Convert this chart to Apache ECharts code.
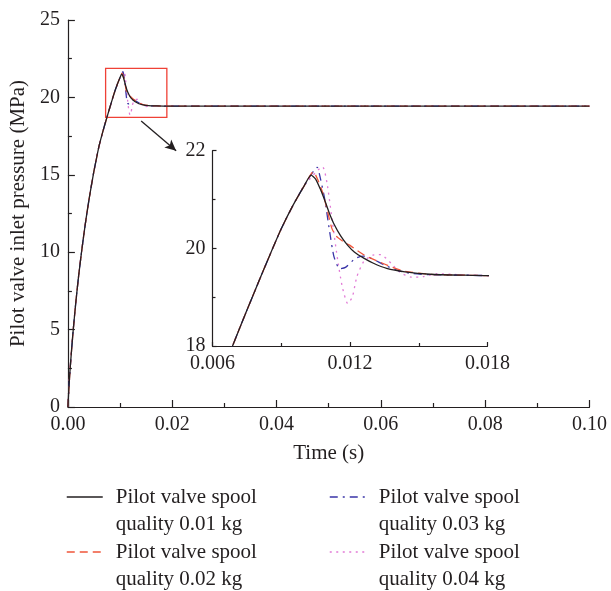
<!DOCTYPE html>
<html>
<head>
<meta charset="utf-8">
<script src="https://cdn.jsdelivr.net/npm/echarts@6/dist/echarts.min.js"></script>
<style>
html,body{margin:0;padding:0;background:#fff;}
#chart{width:611px;height:591px;}
</style>
</head>
<body>
<div id="chart"></div>
<script>
// ---- data ----
var seriesNames = [
  'Pilot valve spool quality 0.01 kg',
  'Pilot valve spool quality 0.02 kg',
  'Pilot valve spool quality 0.03 kg',
  'Pilot valve spool quality 0.04 kg'
];
// shared pressure rise (all four curves coincide)
var riseTime = [0, 0.0002, 0.0005, 0.001, 0.0015, 0.002, 0.0025, 0.003, 0.0035, 0.004, 0.0045, 0.005, 0.0055, 0.006, 0.0065, 0.007, 0.0075, 0.008, 0.0085, 0.009, 0.0095, 0.010];
var risePressure = [0, 1.3, 2.8, 4.9, 6.7, 8.3, 9.7, 11.0, 12.2, 13.3, 14.3, 15.25, 16.1, 16.9, 17.55, 18.15, 18.73, 19.3, 19.86, 20.4, 20.87, 21.28];
// settled tail (shared)
var tailTime = [0.03, 0.05, 0.07, 0.1];
var tailPressure = [19.44, 19.44, 19.44, 19.44];

var time001 = [0.0103, 0.0105, 0.0107, 0.0109, 0.0111, 0.0113, 0.0116, 0.0119, 0.0122, 0.0126, 0.013, 0.0136, 0.0144, 0.0155, 0.017, 0.0183];
var press001 = [21.5, 21.42, 21.22, 20.98, 20.72, 20.5, 20.25, 20.06, 19.92, 19.8, 19.7, 19.59, 19.52, 19.47, 19.45, 19.44];

var time002 = [0.0104, 0.0106, 0.0108, 0.011, 0.0112, 0.0114, 0.0117, 0.012, 0.0123, 0.0127, 0.0132, 0.0138, 0.0144, 0.0155, 0.017, 0.0183];
var press002 = [21.57, 21.4, 21.15, 20.8, 20.42, 20.25, 20.14, 20.06, 19.96, 19.84, 19.74, 19.62, 19.53, 19.47, 19.45, 19.44];

var time003 = [0.01057, 0.0107, 0.0109, 0.0111, 0.0113, 0.01155, 0.0118, 0.01225, 0.0126, 0.0129, 0.0135, 0.014, 0.0146, 0.0155, 0.017, 0.0183];
var press003 = [21.66, 21.45, 21.0, 20.38, 19.83, 19.58, 19.61, 19.8, 19.84, 19.8, 19.66, 19.56, 19.49, 19.46, 19.45, 19.44];

var time004 = [0.0108, 0.011, 0.0112, 0.01144, 0.01166, 0.0119, 0.0121, 0.0123, 0.0126, 0.013, 0.01335, 0.0138, 0.0142, 0.0147, 0.0152, 0.0158, 0.0164, 0.0172, 0.0183];
var press004 = [21.67, 21.33, 20.65, 19.83, 19.22, 18.87, 19.0, 19.42, 19.73, 19.86, 19.87, 19.69, 19.5, 19.41, 19.42, 19.48, 19.47, 19.45, 19.44];

var mainXTicks = [0, 0.1, 0.02];      // min, max, interval
var mainYTicks = [0, 25, 5];
var insetXTicks = [0.006, 0.018, 0.006];
var insetYTicks = [18, 22, 2];
var zoomBoxTime = [0.00723, 0.01897];
var zoomBoxPressure = [18.71, 21.88];
var arrowTime = [0.01405, 0.02075];
var arrowPressure = [18.48, 16.56];

// ---- build ----
function buildData(t, p) {
  var out = [];
  var i;
  for (i = 0; i < riseTime.length; i++) out.push([riseTime[i], risePressure[i]]);
  for (i = 0; i < t.length; i++) out.push([t[i], p[i]]);
  for (i = 0; i < tailTime.length; i++) out.push([tailTime[i], tailPressure[i]]);
  return out;
}
var datasets = [
  buildData(time001, press001),
  buildData(time002, press002),
  buildData(time003, press003),
  buildData(time004, press004)
];
var colors = ['#231f20', '#f0553a', '#3a35a8', '#e27ad6'];
var dashTypes = ['solid', [8, 5], [8, 5, 2, 5], [2, 4.5]];
var FONT = 'Liberation Serif';
var TXT = '#231f20';

function axisCommon() {
  return {
    axisLine: {show: true, lineStyle: {color: TXT, width: 1.2}},
    axisTick: {show: true, inside: true, length: 7, lineStyle: {color: TXT, width: 1.2}},
    minorTick: {show: true, splitNumber: 2, length: 4, lineStyle: {color: TXT, width: 1.2}},
    splitLine: {show: false},
    axisLabel: {fontFamily: FONT, fontSize: 20, color: TXT, margin: 5}
  };
}
function merge(a, b) { for (var k in b) a[k] = b[k]; return a; }

var xAxes = [
  merge(axisCommon(), {type: 'value', gridIndex: 0, min: mainXTicks[0], max: mainXTicks[1], interval: mainXTicks[2],
    name: 'Time (s)', nameLocation: 'middle', nameGap: 36,
    nameTextStyle: {fontFamily: FONT, fontSize: 21, color: TXT}}),
  merge(axisCommon(), {type: 'value', gridIndex: 1, min: insetXTicks[0], max: insetXTicks[1], interval: insetXTicks[2]})
];
xAxes[0].axisLabel = {fontFamily: FONT, fontSize: 20, color: TXT, margin: 8, formatter: function (v) { return v.toFixed(2); }};
xAxes[1].axisLabel = {fontFamily: FONT, fontSize: 20, color: TXT, margin: 8, formatter: function (v) { return v.toFixed(3); }};
xAxes[1].axisTick = {show: true, inside: true, length: 4, lineStyle: {color: TXT, width: 1.2}};
xAxes[1].minorTick = {show: true, splitNumber: 2, length: 3, lineStyle: {color: TXT, width: 1.2}};

var yAxes = [
  merge(axisCommon(), {type: 'value', gridIndex: 0, min: mainYTicks[0], max: mainYTicks[1], interval: mainYTicks[2],
    name: 'Pilot valve inlet pressure (MPa)', nameLocation: 'middle', nameGap: 37,
    nameTextStyle: {fontFamily: FONT, fontSize: 21, color: TXT}}),
  merge(axisCommon(), {type: 'value', gridIndex: 1, min: insetYTicks[0], max: insetYTicks[1], interval: insetYTicks[2]})
];
yAxes[0].axisLabel = {fontFamily: FONT, fontSize: 20, color: TXT, margin: 8};
yAxes[1].axisLabel = {fontFamily: FONT, fontSize: 20, color: TXT, margin: 7};
yAxes[1].axisTick = {show: true, inside: true, length: 4, lineStyle: {color: TXT, width: 1.2}};
yAxes[1].minorTick = {show: true, splitNumber: 2, length: 3, lineStyle: {color: TXT, width: 1.2}};

var series = [];
for (var s = 0; s < 4; s++) {
  var mainS = {
    name: seriesNames[s], type: 'line', xAxisIndex: 0, yAxisIndex: 0,
    data: datasets[s], symbol: 'none', showSymbol: false, clip: true, smooth: 0.2,
    lineStyle: {color: colors[s], width: 1.3, type: dashTypes[s]},
    itemStyle: {color: colors[s]},
    z: 10 - s
  };
  if (s === 0) {
    mainS.markArea = {
      silent: true,
      itemStyle: {color: 'rgba(0,0,0,0)', borderColor: '#ef4136', borderWidth: 1.3},
      data: [[{coord: [zoomBoxTime[0], zoomBoxPressure[1]]}, {coord: [zoomBoxTime[1], zoomBoxPressure[0]]}]]
    };
    mainS.markLine = {
      silent: true, symbol: ['none', 'arrow'], symbolSize: [8, 11],
      label: {show: false},
      lineStyle: {color: TXT, width: 1.3, type: 'solid'},
      data: [[{coord: [arrowTime[0], arrowPressure[0]]}, {coord: [arrowTime[1], arrowPressure[1]]}]]
    };
  }
  series.push(mainS);
}
for (var s2 = 0; s2 < 4; s2++) {
  series.push({
    name: seriesNames[s2], type: 'line', xAxisIndex: 1, yAxisIndex: 1,
    data: datasets[s2], symbol: 'none', showSymbol: false, clip: true, smooth: 0.2,
    lineStyle: {color: colors[s2], width: 1.3, type: dashTypes[s2]},
    itemStyle: {color: colors[s2]},
    z: 10 - s2
  });
}

var legendPos = [[66, 456.5], [66, 511.5], [329, 456.5], [329, 511.5]];
var legends = [];
for (var l = 0; l < 4; l++) {
  legends.push({
    show: true, left: legendPos[l][0], top: legendPos[l][1], padding: 0,
    itemWidth: 36, itemHeight: 14, selectedMode: false,
    itemStyle: {opacity: 0},
    lineStyle: {color: colors[l], width: 1.5, type: dashTypes[l]},
    data: [seriesNames[l]],
    formatter: function (name) { return '\n' + name.replace(' quality', '\nquality'); },
    textStyle: {fontFamily: FONT, fontSize: 21, color: TXT, lineHeight: 27, padding: [0, 0, 0, 8]}
  });
}

var chart = echarts.init(document.getElementById('chart'), null, {renderer: 'canvas'});
chart.setOption({
  animation: false,
  backgroundColor: '#ffffff',
  grid: [
    {left: 66.5, right: 21.5, top: 20, bottom: 184, containLabel: false},
    {left: 212.5, right: 123.5, top: 150.7, bottom: 245, containLabel: false}
  ],
  xAxis: xAxes,
  yAxis: yAxes,
  legend: legends,
  series: series
});
</script>
</body>
</html>
